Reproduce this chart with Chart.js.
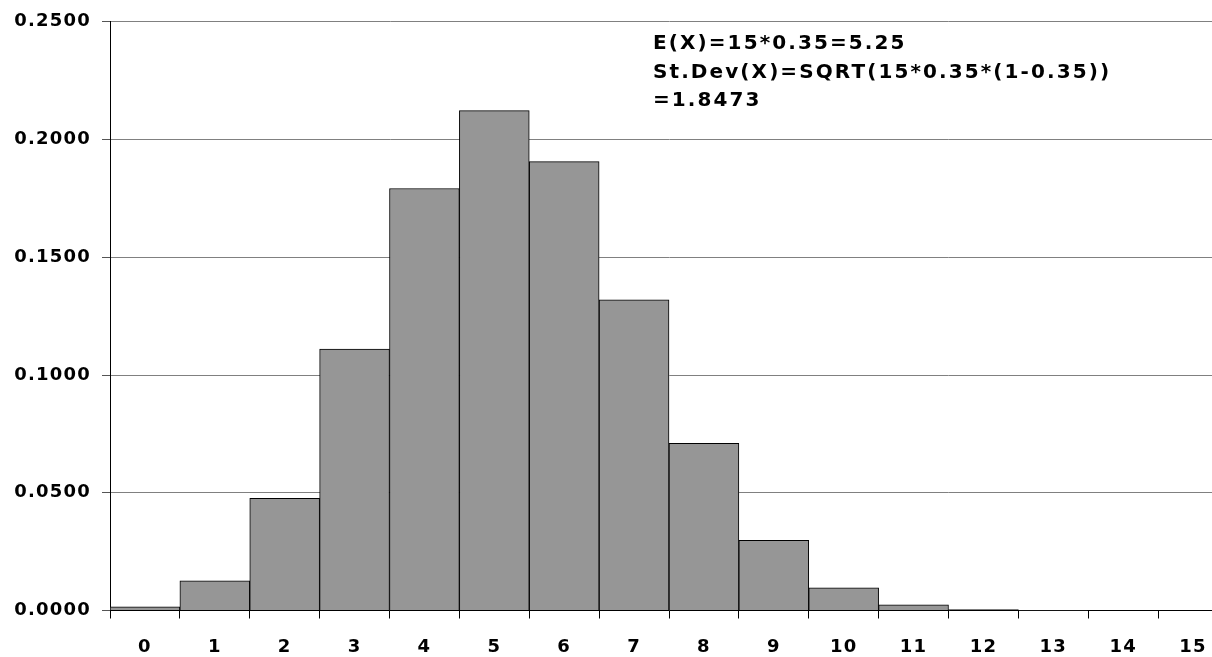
<!DOCTYPE html>
<html>
<head>
<meta charset="utf-8">
<script src="https://cdn.jsdelivr.net/npm/chart.js@4/dist/chart.umd.min.js"></script>
<style>
  html, body { margin: 0; padding: 0; background: #fff; overflow: hidden; }
  #wrap { width: 1228px; height: 657px; }
</style>
</head>
<body>
<div id="wrap"><canvas id="bar-chart"></canvas></div>
<script>
// binomial n=15, p=0.35
const categories = ['0', '1', '2', '3', '4', '5', '6', '7', '8', '9', '10', '11', '12', '13', '14', '15'];
const probabilities = [0.0016, 0.0126, 0.0476, 0.1110, 0.1792, 0.2123, 0.1906, 0.1319, 0.0710, 0.0298, 0.0096, 0.0024, 0.0004, 0.0001, 0.0000, 0.0000];
const noteLines = ['E(X)=15*0.35=5.25', 'St.Dev(X)=SQRT(15*0.35*(1-0.35))', '=1.8473'];

const tickFont = { family: 'DejaVu Sans', size: 18, weight: 'bold' };

// spaced-out text like the original
const spacing = {
  id: 'spacing',
  beforeLayout(chart) { chart.ctx.letterSpacing = '1.2px'; },
  beforeDraw(chart) { chart.ctx.letterSpacing = '1.2px'; }
};

const note = {
  id: 'note',
  afterDraw(chart) {
    const ctx = chart.ctx;
    ctx.save();
    ctx.letterSpacing = '2.1px';
    ctx.font = 'bold 20px "DejaVu Sans"';
    ctx.fillStyle = '#000';
    ctx.textAlign = 'left';
    ctx.textBaseline = 'alphabetic';
    noteLines.forEach((line, i) => {
      ctx.fillText(line, 653, 49 + i * 28.5);
    });
    ctx.restore();
  }
};

const ctx = document.getElementById('bar-chart').getContext('2d');

const chart = new Chart(ctx, {
  type: 'bar',
  data: {
    labels: categories,
    datasets: [{
      data: probabilities,
      backgroundColor: '#969696',
      borderColor: '#000',
      borderWidth: 1,
      barPercentage: 1,
      categoryPercentage: 1
    }]
  },
  options: {
    responsive: true,
    maintainAspectRatio: false,
    animation: false,
    layout: { padding: { top: 20, left: 0, right: 0, bottom: 0 } },
    plugins: { legend: { display: false }, tooltip: { enabled: false } },
    scales: {
      x: {
        offset: true,
        grid: { offset: true, drawOnChartArea: false, tickLength: 8, tickColor: '#000' },
        border: { color: '#000', width: 1 },
        ticks: { color: '#000', font: tickFont, padding: 18, maxRotation: 0, autoSkip: false },
        afterFit(scale) { scale.height = 46.5; }
      },
      y: {
        min: 0,
        max: 0.25,
        grid: { color: '#808080', tickLength: 8, tickColor: '#555' },
        border: { color: '#000', width: 1 },
        ticks: {
          stepSize: 0.05,
          color: '#000',
          font: tickFont,
          padding: 11,
          callback: v => v.toFixed(4)
        },
        afterFit(scale) { scale.width = 110; }
      }
    }
  },
  plugins: [spacing, note]
});
</script>
</body>
</html>
